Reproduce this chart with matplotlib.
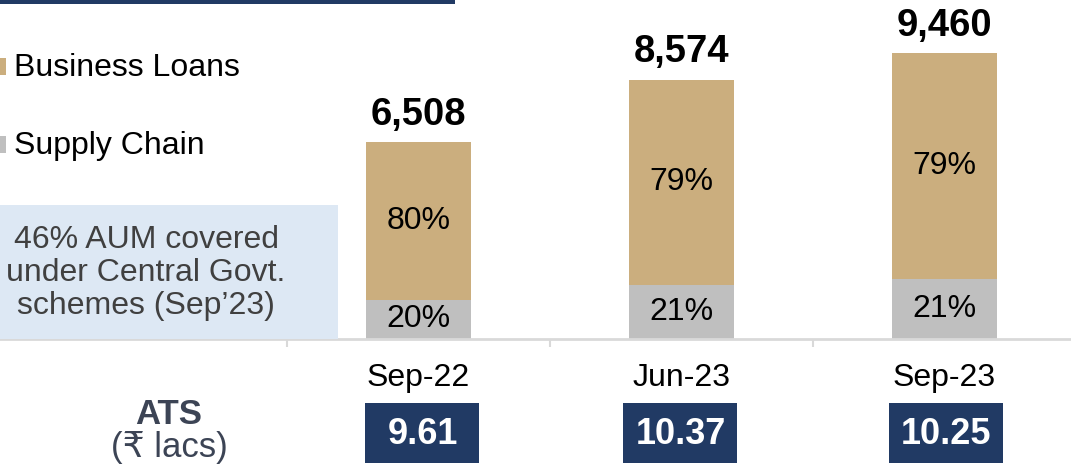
import matplotlib
matplotlib.use("Agg")
import matplotlib.pyplot as plt
from matplotlib.patches import Rectangle
import matplotlib.transforms as mtransforms

plt.rcParams['font.family'] = ['Liberation Sans', 'DejaVu Sans']

# ---- data ----
categories = ["Sep-22", "Jun-23", "Sep-23"]
totals = [6508, 8574, 9460]
business_pct = [80, 79, 79]
supply_pct = [20, 21, 21]
ats_values = ["9.61", "10.37", "10.25"]
series_names = ["Business Loans", "Supply Chain"]
note_text = "46% AUM covered\nunder Central Govt.\nschemes (Sep\u201923)"

TAN = "#CBAE7E"
GRAY = "#BFBFBF"
NAVY = "#213A64"
NOTE_BG = "#DDE8F4"
AXIS = "#D9D9D9"

W, H, DPI = 1071, 466, 100
fig = plt.figure(figsize=(W / DPI, H / DPI), dpi=DPI)
ax = fig.add_axes([0, 0, 1, 1])

# pixel geometry -> limits
base_px = 339          # baseline from top
units_per_px = 1 / 0.0302
center0_px, spacing_px = 418.5, 263.0
ax.set_xlim(-center0_px / spacing_px, (W - center0_px) / spacing_px)
ax.set_ylim(-(H - base_px) * units_per_px, base_px * units_per_px)

x = list(range(len(categories)))
supply_vals = [t * s / 100 for t, s in zip(totals, supply_pct)]
business_vals = [t - s for t, s in zip(totals, supply_vals)]

ax.bar(x, supply_vals, width=0.4, color=GRAY, zorder=2)
ax.bar(x, business_vals, bottom=supply_vals, width=0.4, color=TAN, zorder=2)

for i in x:
    ax.text(i, supply_vals[i] / 2, f"{supply_pct[i]}%", ha="center", va="center",
            fontsize=23, color="black", zorder=3)
    ax.text(i, supply_vals[i] + business_vals[i] / 2, f"{business_pct[i]}%",
            ha="center", va="center", fontsize=23, color="black", zorder=3)
    ax.annotate(f"{totals[i]:,}", (i, totals[i]), xytext=(0, 7), textcoords="offset points",
                ha="center", va="bottom", fontsize=27.5, fontweight="bold", color="black")

# axis styling
for s in ["top", "right", "left"]:
    ax.spines[s].set_visible(False)
ax.spines["bottom"].set_position(("data", 0))
ax.spines["bottom"].set_color(AXIS)
ax.spines["bottom"].set_linewidth(2)
ax.set_yticks([])
ax.set_xticks([])
ax.set_xticks([-0.5, 0.5, 1.5], minor=True)
ax.tick_params(axis="x", which="minor", direction="out", length=6, width=1.5, color=AXIS)
ax.patch.set_visible(False)

trans = mtransforms.blended_transform_factory(ax.transData, ax.transAxes)
def fy(p):
    return 1 - p / H

for i in x:
    ax.text(i, fy(378), categories[i], transform=trans, ha="center", va="center",
            fontsize=23, color="black")
    bw = 114 / spacing_px
    xc = i + (4 if i == 0 else (-1 if i == 1 else 2)) / spacing_px
    ax.add_patch(Rectangle((xc - bw / 2, fy(463)), bw, (463 - 403) / H, transform=trans,
                           facecolor=NAVY, edgecolor="none", clip_on=False, zorder=3))
    ax.text(xc, fy(434), ats_values[i], transform=trans, ha="center", va="center",
            fontsize=26, fontweight="bold", color="white", zorder=4)

# ATS label
fig.text(169 / W, fy(414), "ATS", ha="center", va="center", fontsize=25,
         fontweight="bold", color="#3C4455")
fig.text(169 / W, fy(448), "(\u20b9 lacs)", ha="center", va="center", fontsize=25,
         color="#3C4455", family=['Liberation Sans', 'DejaVu Sans'])

# note box
fig.patches.append(Rectangle((0, fy(339)), 338 / W, (339 - 205) / H, transform=fig.transFigure,
                             facecolor=NOTE_BG, edgecolor="none", zorder=5))
fig.text(146 / W, fy(273), note_text, ha="center", va="center", fontsize=23,
         color="#404040", linespacing=1.15, zorder=6)

# legend
fig.patches.append(Rectangle((0, fy(75)), 6 / W, 17 / H, transform=fig.transFigure,
                             facecolor=TAN, edgecolor="none"))
fig.patches.append(Rectangle((0, fy(153)), 6 / W, 17 / H, transform=fig.transFigure,
                             facecolor=GRAY, edgecolor="none"))
fig.text(14 / W, fy(68), series_names[0], ha="left", va="center", fontsize=23, color="black")
fig.text(14 / W, fy(146), series_names[1], ha="left", va="center", fontsize=23, color="black")

# top rule
fig.patches.append(Rectangle((0, fy(4)), 455 / W, 4 / H, transform=fig.transFigure,
                             facecolor=NAVY, edgecolor="none"))

fig.savefig("out.png", dpi=DPI)
